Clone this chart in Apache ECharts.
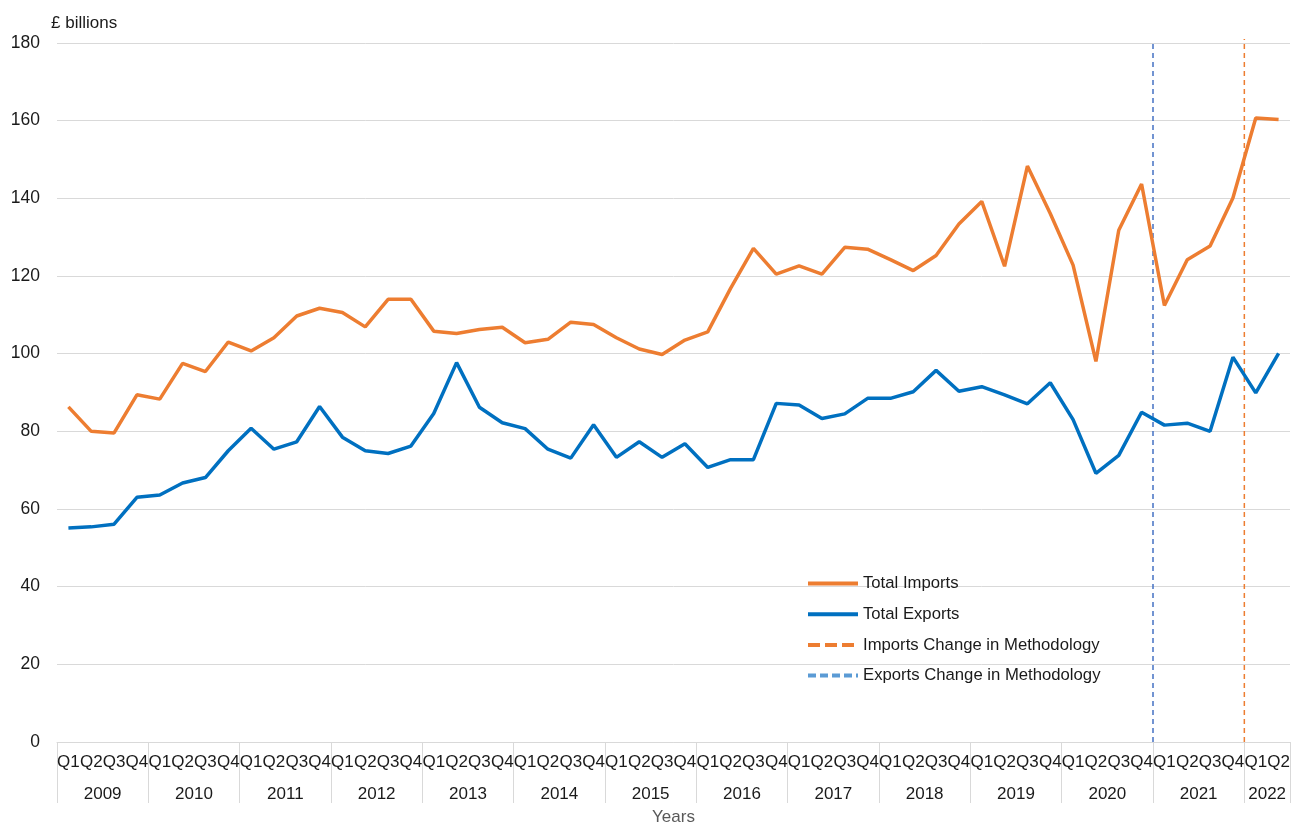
<!DOCTYPE html>
<html>
<head>
<meta charset="utf-8">
<script src="https://cdn.jsdelivr.net/npm/echarts@6/dist/echarts.min.js"></script>
<style>
  html, body { margin: 0; padding: 0; background: #fff; }
  #chart { width: 1293px; height: 823px; }
</style>
</head>
<body>
<div id="chart"></div>
<script>
// data, £ billions per quarter, 2009 Q1 .. 2022 Q2
const years = ["2009", "2010", "2011", "2012", "2013", "2014", "2015",
  "2016", "2017", "2018", "2019", "2020", "2021", "2022"];
const quarters = ["Q1", "Q2", "Q3", "Q4"];

const totalImports = [
  86.3, 80.0, 79.6, 89.4,
  88.3, 97.5, 95.4, 103.0,
  100.7, 104.1, 109.7, 111.7,
  110.6, 106.9, 114.0, 114.0,
  105.8, 105.2, 106.2, 106.8,
  102.8, 103.7, 108.1, 107.5,
  104.1, 101.2, 99.8, 103.5,
  105.6, 116.8, 127.1, 120.5,
  122.6, 120.5, 127.4, 126.9,
  124.2, 121.4, 125.3, 133.4,
  139.2, 122.5, 148.3, 136.1,
  122.8, 98.0, 131.8, 143.7,
  112.4, 124.2, 127.7, 140.1,
  160.7, 160.3,
];
const totalExports = [
  55.1, 55.4, 56.1, 63.0,
  63.6, 66.7, 68.1, 75.0,
  80.8, 75.4, 77.3, 86.4,
  78.5, 75.0, 74.3, 76.2,
  84.6, 97.7, 86.2, 82.2,
  80.7, 75.4, 73.1, 81.7,
  73.3, 77.3, 73.3, 76.8,
  70.7, 72.7, 72.7, 87.2,
  86.8, 83.3, 84.5, 88.5,
  88.5, 90.2, 95.7, 90.3,
  91.5, 89.4, 87.1, 92.5,
  83.0, 69.2, 73.8, 84.9,
  81.6, 82.1, 80.0, 99.1,
  89.9, 100.1,
];
// methodology changes sit on the quarter boundaries (quarter index)
const exportsChangeAt = 48; // start of 2021 Q1
const importsChangeAt = 52; // start of 2022 Q1
const yTicks = { min: 0, max: 180, step: 20 };

const categories = [];
years.forEach((y) => quarters.forEach((q) => categories.push(y + " " + q)));
categories.length = totalImports.length;

// centre of each year's block on the 0..54 quarter scale
const yearCentre = {};
years.forEach((y, i) => {
  const start = i * 4;
  const end = Math.min(start + 4, categories.length);
  yearCentre[(start + end) / 2] = y;
});

const FONT = "'Liberation Sans', Arial, sans-serif";
const INK = "#1a1a1a";
const chart = echarts.init(document.getElementById("chart"));

chart.setOption({
  animation: false,
  textStyle: { fontFamily: FONT, color: INK },
  title: {
    text: "£ billions",
    left: 46,
    top: 10,
    textStyle: { fontFamily: FONT, fontSize: 17, fontWeight: "normal", color: INK },
  },
  grid: { left: 57, right: 3, top: 43, bottom: 81, outerBoundsMode: "none" },
  legend: {
    orient: "vertical",
    left: 801,
    top: 570,
    itemWidth: 50,
    itemHeight: 14,
    itemGap: 13.7,
    itemStyle: { opacity: 0 },
    lineStyle: { width: 4 },
    textStyle: { fontSize: 16.7, color: INK, padding: [0, 0, 0, 0] },
    data: [
      { name: "Total Imports" },
      { name: "Total Exports" },
      { name: "Imports Change in Methodology", lineStyle: { width: 4, type: [12, 5] } },
      { name: "Exports Change in Methodology", lineStyle: { width: 4, color: "#5b9bd5", type: [8, 4] } },
    ],
  },
  xAxis: [
    {
      type: "category",
      data: categories,
      axisLine: { lineStyle: { color: "#d9d9d9" } },
      axisTick: {
        show: true,
        length: 61,
        interval: (i) => i % 4 === 0,
        lineStyle: { color: "#d9d9d9" },
      },
      axisLabel: {
        interval: 0,
        margin: 11.5,
        fontSize: 17,
        color: INK,
        formatter: (v) => v.split(" ")[1],
      },
    },
    {
      type: "value",
      position: "bottom",
      min: 0,
      max: categories.length,
      interval: 1,
      axisLine: { show: false },
      axisTick: { show: false },
      splitLine: { show: false },
      axisLabel: {
        margin: 43.5,
        fontSize: 17,
        color: INK,
        showMinLabel: true,
        showMaxLabel: true,
        formatter: (v) => yearCentre[v] || "",
      },
      name: "Years",
      nameLocation: "middle",
      nameGap: 67,
      nameTextStyle: { fontSize: 17, color: "#595959" },
    },
  ],
  yAxis: {
    type: "value",
    min: yTicks.min,
    max: yTicks.max,
    interval: yTicks.step,
    axisLine: { show: false },
    axisTick: { show: false },
    axisLabel: { fontSize: 17.5, color: INK, margin: 17 },
    splitLine: { lineStyle: { color: "#d9d9d9", width: 1 } },
  },
  series: [
    {
      name: "Total Imports",
      type: "line",
      data: totalImports,
      symbol: "none",
      color: "#ed7d31",
      lineStyle: { width: 3.5, color: "#ed7d31" },
      z: 3,
    },
    {
      name: "Total Exports",
      type: "line",
      data: totalExports,
      symbol: "none",
      color: "#0070c0",
      lineStyle: { width: 3.5, color: "#0070c0" },
      z: 3,
    },
    {
      name: "Imports Change in Methodology",
      type: "line",
      xAxisIndex: 1,
      data: [[importsChangeAt, yTicks.min], [importsChangeAt, yTicks.max + 1]],
      symbol: "none",
      clip: false,
      color: "#ed7d31",
      lineStyle: { width: 1.5, color: "#ed7d31", type: [5, 4] },
      z: 2,
    },
    {
      name: "Exports Change in Methodology",
      type: "line",
      xAxisIndex: 1,
      data: [[exportsChangeAt, yTicks.min], [exportsChangeAt, yTicks.max]],
      symbol: "none",
      clip: false,
      color: "#4472c4",
      lineStyle: { width: 1.5, color: "#4472c4", type: [5, 4] },
      z: 2,
    },
  ],
});
</script>
</body>
</html>
